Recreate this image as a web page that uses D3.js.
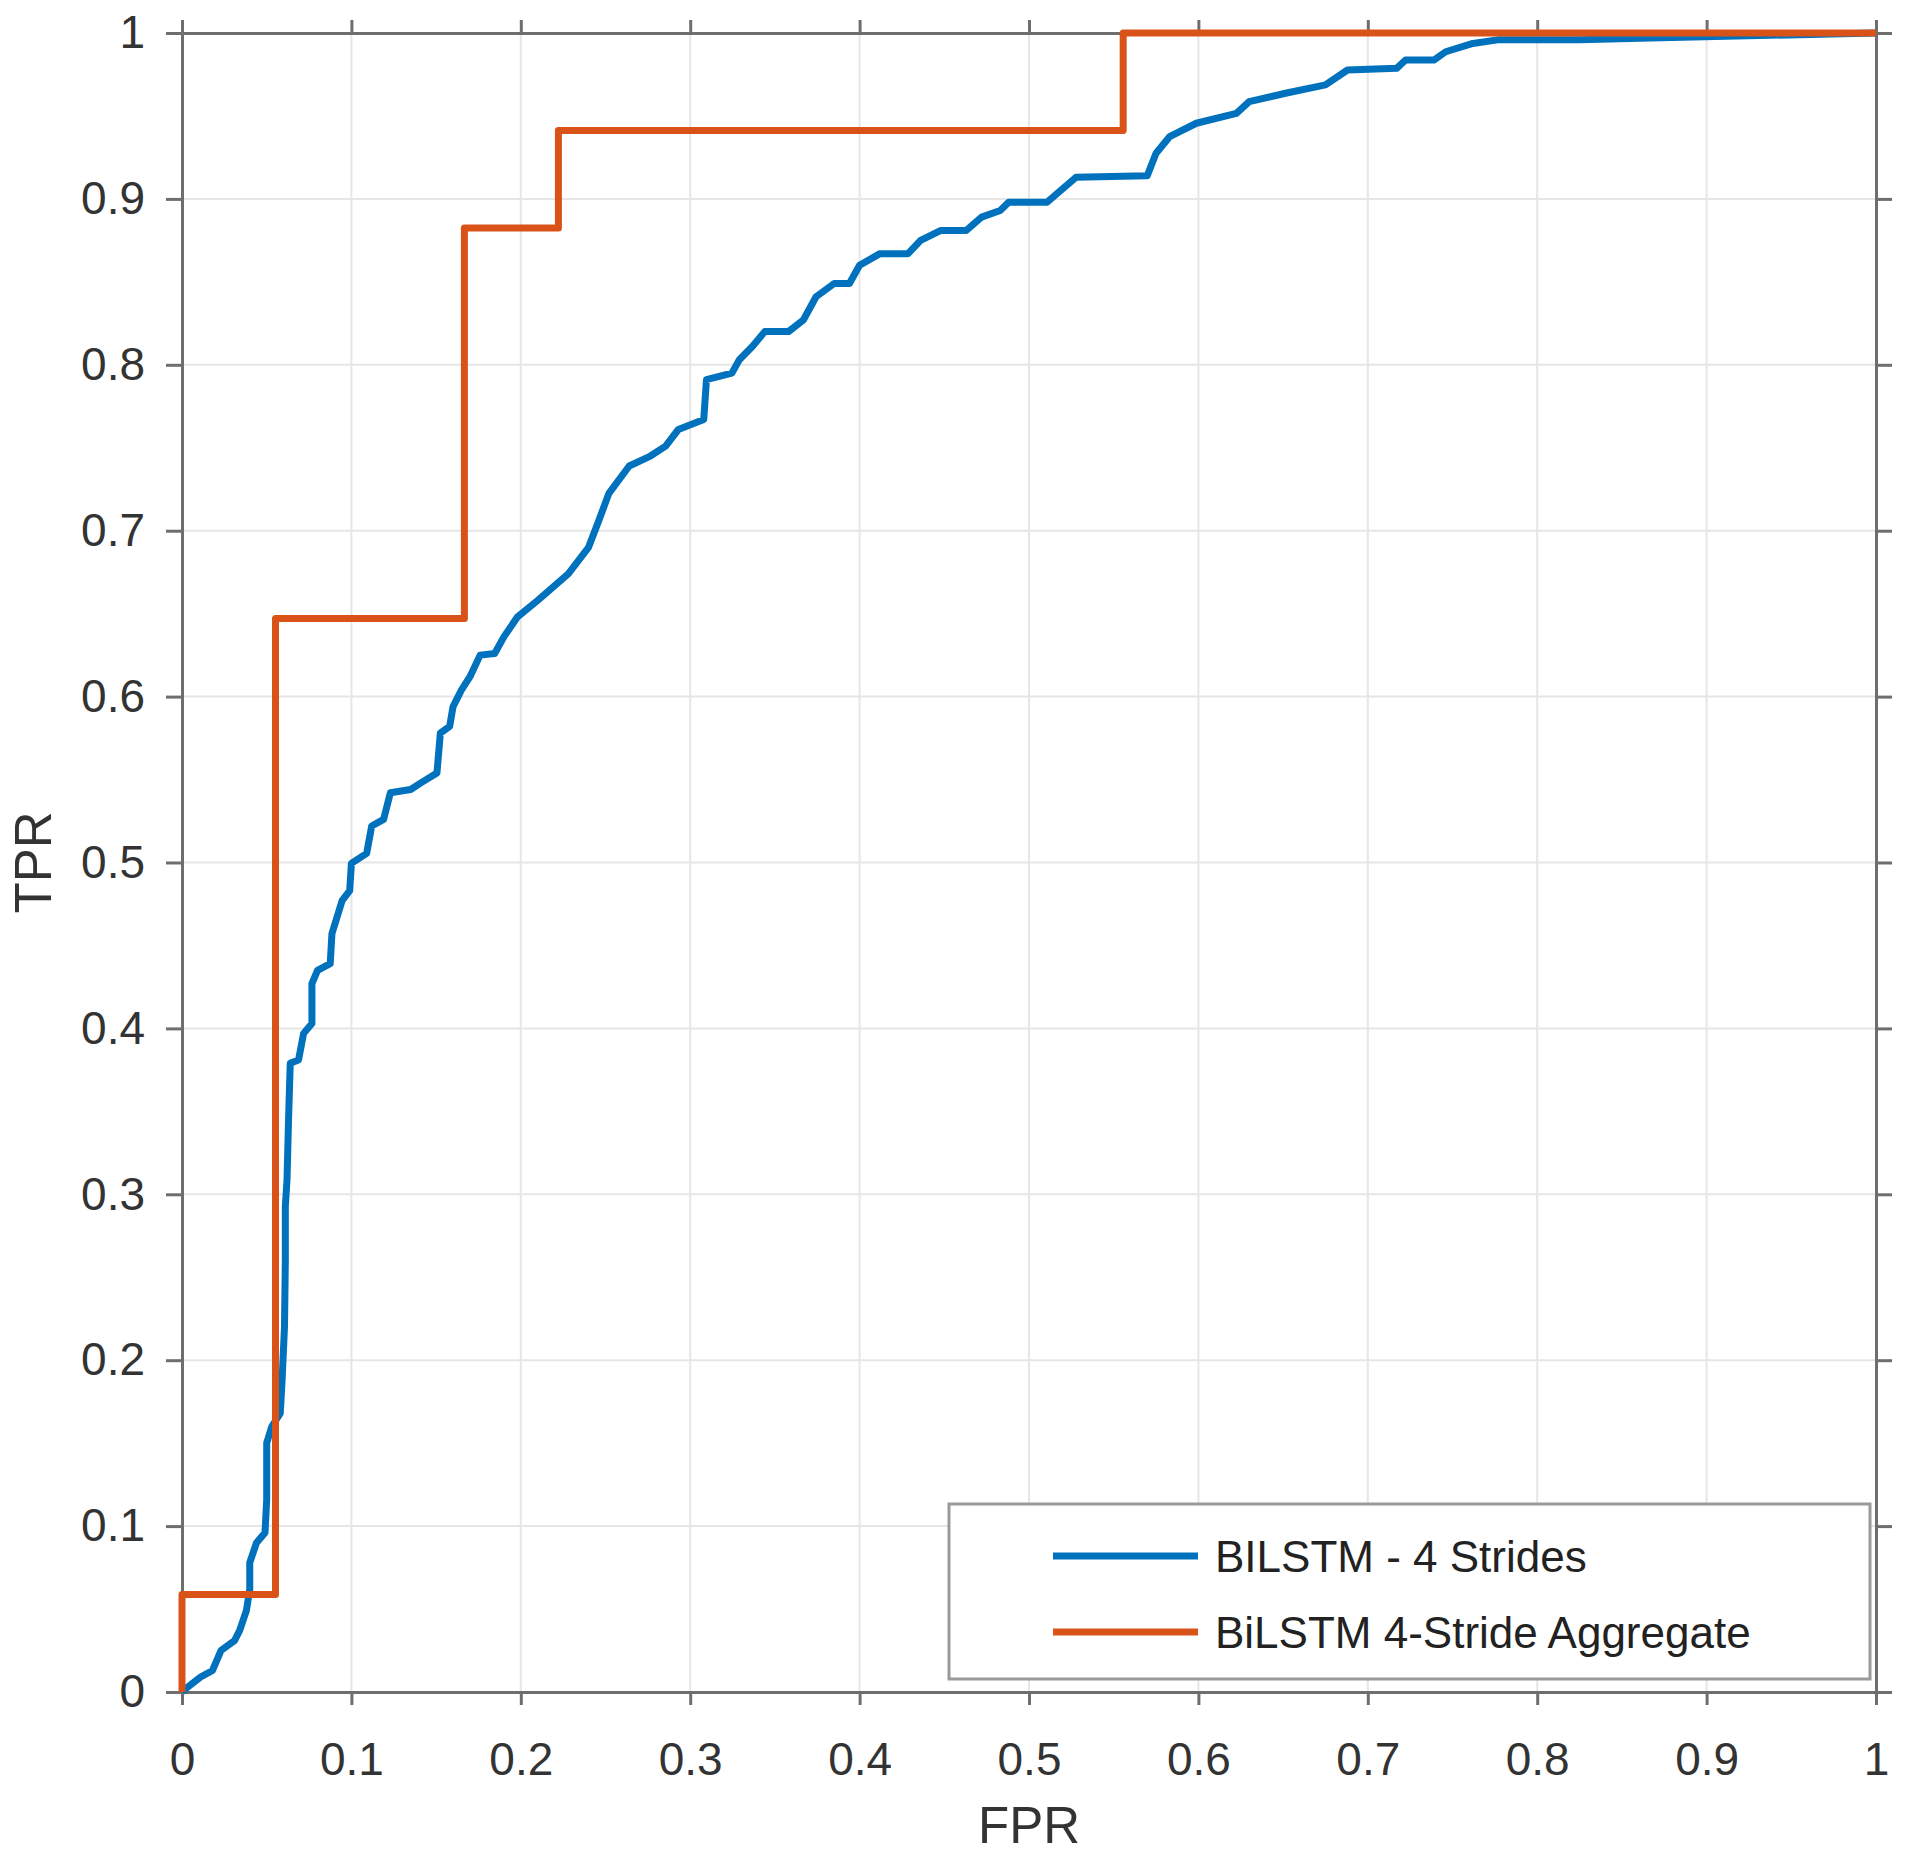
<!DOCTYPE html>
<html>
<head>
<meta charset="utf-8">
<script src="https://cdn.jsdelivr.net/npm/d3@7"></script>
<style>
  body { margin: 0; background: #fff; }
  text { font-family: "Liberation Sans", Arial, Helvetica, sans-serif; }
</style>
</head>
<body>
<div id="chart"></div>
<script>
// ROC curve of the per-stride model (FPR, TPR pairs)
const blueFpr = [0, 0.001, 0.011, 0.018, 0.023, 0.031, 0.034, 0.038, 0.040, 0.040, 0.044, 0.049, 0.050, 0.050,
  0.053, 0.058, 0.059, 0.0605, 0.061, 0.061, 0.062, 0.0629, 0.0639, 0.0688, 0.0718, 0.0767, 0.0767, 0.080, 0.0875, 0.0885,
  0.0945, 0.099, 0.100, 0.109, 0.112, 0.119, 0.123, 0.135, 0.141, 0.1505, 0.1525, 0.158, 0.160, 0.165, 0.170,
  0.176, 0.1846, 0.190, 0.198, 0.210, 0.228, 0.240, 0.246, 0.252, 0.264, 0.2765, 0.2855, 0.293, 0.308, 0.3096,
  0.3246, 0.329, 0.3367, 0.344, 0.358, 0.3668, 0.3743, 0.385, 0.394, 0.400, 0.412, 0.4286, 0.436, 0.448, 0.463,
  0.472, 0.483, 0.488, 0.5107, 0.5277, 0.5698, 0.575, 0.583, 0.5988, 0.6224, 0.630, 0.6514, 0.675, 0.688, 0.717,
  0.7223, 0.739, 0.746, 0.762, 0.7776, 0.825, 0.867, 1];
const blueTpr = [0, 0.001, 0.009, 0.013, 0.025, 0.031, 0.037, 0.049, 0.062, 0.078, 0.090, 0.096, 0.116, 0.150,
  0.160, 0.168, 0.186, 0.220, 0.260, 0.2925, 0.309, 0.345, 0.379, 0.381, 0.397, 0.403, 0.427, 0.435, 0.439, 0.457,
  0.477, 0.483, 0.4995, 0.5055, 0.522, 0.526, 0.542, 0.544, 0.548, 0.554, 0.578, 0.582, 0.594, 0.604, 0.612,
  0.625, 0.626, 0.636, 0.648, 0.658, 0.674, 0.690, 0.706, 0.7225, 0.739, 0.745, 0.751, 0.761, 0.767, 0.791,
  0.795, 0.803, 0.811, 0.820, 0.820, 0.827, 0.841, 0.849, 0.849, 0.860, 0.867, 0.867, 0.875, 0.881, 0.881,
  0.889, 0.893, 0.898, 0.898, 0.913, 0.914, 0.9275, 0.9375, 0.9456, 0.9516, 0.9586, 0.9637, 0.9687, 0.9777, 0.9787,
  0.9837, 0.9837, 0.9887, 0.9937, 0.996, 0.996, 0.997, 1];

// ROC corners of the aggregate model
const aggFpr = [0, 0, 0.0552, 0.1667, 0.2222, 0.5556, 1];
const aggTpr = [0, 0.0588, 0.6471, 0.8824, 0.9412, 1, 1];

const tickValues = [0, 0.1, 0.2, 0.3, 0.4, 0.5, 0.6, 0.7, 0.8, 0.9, 1];
const seriesNames = ["BILSTM - 4 Strides", "BiLSTM 4-Stride Aggregate"];
const seriesColors = ["#0072BD", "#D95319"];

const chartWidth = 1920, chartHeight = 1860;
const margin = { top: 33, right: 44, bottom: 168, left: 182 };
const width = chartWidth - margin.left - margin.right;
const height = chartHeight - margin.top - margin.bottom;

const $svg = d3.select("#chart").append("svg")
  .attr("width", chartWidth)
  .attr("height", chartHeight);

const $g = $svg.append("g")
  .attr("transform", `translate(${margin.left},${margin.top})`);

const xScale = d3.scaleLinear().domain([0, 1]).range([0, width]);
const yScale = d3.scaleLinear().domain([0, 1]).range([height, 0]);

// grid lines
$g.append("g").selectAll("line.vg")
  .data(tickValues).enter().append("line")
  .attr("x1", d => xScale(d)).attr("x2", d => xScale(d))
  .attr("y1", 0).attr("y2", height)
  .attr("stroke", "#e6e6e6").attr("stroke-width", 2);
$g.append("g").selectAll("line.hg")
  .data(tickValues).enter().append("line")
  .attr("y1", d => yScale(d)).attr("y2", d => yScale(d))
  .attr("x1", 0).attr("x2", width)
  .attr("stroke", "#e6e6e6").attr("stroke-width", 2);

// axes: labelled bottom/left, bare ticks on top/right
const fmt = d => d === 0 || d === 1 ? String(d) : d3.format(".1f")(d);
const styleAxis = sel => {
  sel.selectAll(".domain").attr("stroke", "#6e6e6e").attr("stroke-width", 3);
  sel.selectAll(".tick line").attr("stroke", "#6e6e6e").attr("stroke-width", 3);
  sel.selectAll("text").attr("fill", "#333").style("font-size", "46px");
};

$g.append("g").attr("transform", `translate(0,${height})`)
  .call(d3.axisBottom(xScale).tickValues(tickValues).tickFormat(fmt).tickSize(13).tickSizeOuter(0).tickPadding(37))
  .call(styleAxis);
$g.append("g")
  .call(d3.axisLeft(yScale).tickValues(tickValues).tickFormat(fmt).tickSize(16).tickSizeOuter(0).tickPadding(21))
  .call(styleAxis);
$g.append("g")
  .call(d3.axisTop(xScale).tickValues(tickValues).tickFormat("").tickSize(13).tickSizeOuter(0))
  .call(styleAxis);
$g.append("g").attr("transform", `translate(${width},0)`)
  .call(d3.axisRight(yScale).tickValues(tickValues).tickFormat("").tickSize(16).tickSizeOuter(0))
  .call(styleAxis);

// curves
const blueData = blueFpr.map((f, i) => ({ fpr: f, tpr: blueTpr[i] }));
const aggData = aggFpr.map((f, i) => ({ fpr: f, tpr: aggTpr[i] }));

$g.append("path")
  .datum(blueData)
  .attr("fill", "none")
  .attr("stroke", seriesColors[0])
  .attr("stroke-width", 7)
  .attr("stroke-linejoin", "round")
  .attr("d", d3.line().x(d => xScale(d.fpr)).y(d => yScale(d.tpr)));

$g.append("path")
  .datum(aggData)
  .attr("fill", "none")
  .attr("stroke", seriesColors[1])
  .attr("stroke-width", 7)
  .attr("stroke-linejoin", "round")
  .attr("d", d3.line().x(d => xScale(d.fpr)).y(d => yScale(d.tpr)).curve(d3.curveStepAfter));

// axis labels
$svg.append("text")
  .attr("x", margin.left + width / 2)
  .attr("y", 1843)
  .attr("text-anchor", "middle")
  .attr("fill", "#333")
  .style("font-size", "51px")
  .text("FPR");

$svg.append("text")
  .attr("transform", `translate(51,${margin.top + height / 2}) rotate(-90)`)
  .attr("text-anchor", "middle")
  .attr("fill", "#333")
  .style("font-size", "51px")
  .text("TPR");

// legend
const legendX = 949, legendY = 1504, legendW = 921, legendH = 175;
const $legend = $svg.append("g");
$legend.append("rect")
  .attr("x", legendX).attr("y", legendY)
  .attr("width", legendW).attr("height", legendH)
  .attr("fill", "#fff")
  .attr("stroke", "#9a9a9a")
  .attr("stroke-width", 3);

seriesNames.forEach((name, i) => {
  const cy = 1556 + i * 76;
  $legend.append("line")
    .attr("x1", 1053).attr("x2", 1198)
    .attr("y1", cy).attr("y2", cy)
    .attr("stroke", seriesColors[i])
    .attr("stroke-width", 7);
  $legend.append("text")
    .attr("x", 1215)
    .attr("y", cy + 16)
    .attr("fill", "#222")
    .style("font-size", "44px")
    .text(name);
});
</script>
</body>
</html>
